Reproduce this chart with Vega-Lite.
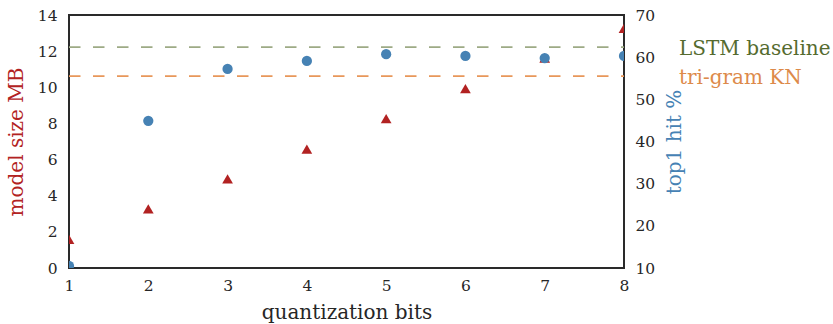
{
  "$schema": "https://vega.github.io/schema/vega-lite/v6.json",
  "autosize": {"type": "none"},
  "width": 555,
  "height": 253,
  "padding": {"left": 69, "top": 15, "right": 209, "bottom": 56},
  "background": "white",
  "config": {
    "font": "DejaVu Serif",
    "view": {"stroke": "#2a2a2a", "strokeWidth": 2},
    "axis": {
      "grid": false,
      "ticks": false,
      "domain": false,
      "labelFlush": false,
      "labelFont": "DejaVu Serif",
      "titleFont": "DejaVu Serif",
      "labelFontSize": 15.5,
      "titleFontSize": 20,
      "titleFontWeight": "normal",
      "labelColor": "#262626",
      "titleColor": "#262626"
    }
  },
  "datasets": {
    "pts": [
      {"bits": 1, "size": 1.58, "hit": 10.5},
      {"bits": 2, "size": 3.27, "hit": 44.9},
      {"bits": 3, "size": 4.93, "hit": 57.2},
      {"bits": 4, "size": 6.58, "hit": 59.1},
      {"bits": 5, "size": 8.26, "hit": 60.7},
      {"bits": 6, "size": 9.93, "hit": 60.3},
      {"bits": 7, "size": 11.62, "hit": 59.8},
      {"bits": 8, "size": 13.26, "hit": 60.3}
    ],
    "base": [
      {"name": "LSTM baseline", "hit": 62.4, "start": 1, "end": 8},
      {"name": "tri-gram KN", "hit": 55.5, "start": 1, "end": 8}
    ]
  },
  "layer": [
    {
      "data": {"name": "pts"},
      "mark": {"type": "point", "shape": "triangle-up", "filled": true, "opacity": 1, "size": 115, "color": "#b22222", "clip": true},
      "encoding": {
        "x": {
          "field": "bits",
          "type": "quantitative",
          "scale": {"domain": [1, 8], "nice": false, "zero": false},
          "axis": {"title": "quantization bits", "values": [1, 2, 3, 4, 5, 6, 7, 8], "labelPadding": 10, "titlePadding": 9, "format": "d"}
        },
        "y": {
          "field": "size",
          "type": "quantitative",
          "scale": {"domain": [0, 14], "nice": false},
          "axis": {"title": "model size MB", "titleColor": "#b22222", "orient": "left", "values": [0, 2, 4, 6, 8, 10, 12, 14], "labelPadding": 12, "titlePadding": 11}
        }
      }
    },
    {
      "layer": [
        {
          "data": {"name": "base"},
          "transform": [{"filter": "datum.name === 'LSTM baseline'"}],
          "mark": {"type": "rule", "strokeDash": [11.5, 12.5], "strokeWidth": 1.8, "color": "#9daa85"},
          "encoding": {
            "x": {"field": "start", "type": "quantitative"},
            "x2": {"field": "end"},
            "y": {"field": "hit", "type": "quantitative"}
          }
        },
        {
          "data": {"name": "base"},
          "transform": [{"filter": "datum.name === 'tri-gram KN'"}],
          "mark": {"type": "rule", "strokeDash": [11.5, 12.5], "strokeWidth": 1.8, "color": "#e8975a"},
          "encoding": {
            "x": {"field": "start", "type": "quantitative"},
            "x2": {"field": "end"},
            "y": {"field": "hit", "type": "quantitative"}
          }
        },
        {
          "data": {"name": "pts"},
          "mark": {"type": "circle", "size": 105, "opacity": 1, "color": "#4682b4", "clip": true},
          "encoding": {
            "x": {"field": "bits", "type": "quantitative"},
            "y": {
              "field": "hit",
              "type": "quantitative",
              "scale": {"domain": [10, 70], "nice": false, "zero": false},
              "axis": {"title": "top1 hit %", "titleColor": "#4682b4", "orient": "right", "titleAngle": 270, "titleBaseline": "bottom", "values": [10, 20, 30, 40, 50, 60, 70], "labelPadding": 11, "titlePadding": 30}
            }
          }
        },
        {
          "data": {"name": "base"},
          "transform": [{"filter": "datum.name === 'LSTM baseline'"}],
          "mark": {"type": "text", "align": "left", "baseline": "middle", "dx": 55, "dy": 2, "fontSize": 20, "font": "DejaVu Serif", "color": "#556b2f"},
          "encoding": {
            "x": {"field": "end", "type": "quantitative"},
            "y": {"field": "hit", "type": "quantitative"},
            "text": {"field": "name"}
          }
        },
        {
          "data": {"name": "base"},
          "transform": [{"filter": "datum.name === 'tri-gram KN'"}],
          "mark": {"type": "text", "align": "left", "baseline": "middle", "dx": 55, "dy": 2, "fontSize": 20, "font": "DejaVu Serif", "color": "#dd8a4a"},
          "encoding": {
            "x": {"field": "end", "type": "quantitative"},
            "y": {"field": "hit", "type": "quantitative"},
            "text": {"field": "name"}
          }
        }
      ]
    }
  ],
  "resolve": {"scale": {"y": "independent"}}
}
